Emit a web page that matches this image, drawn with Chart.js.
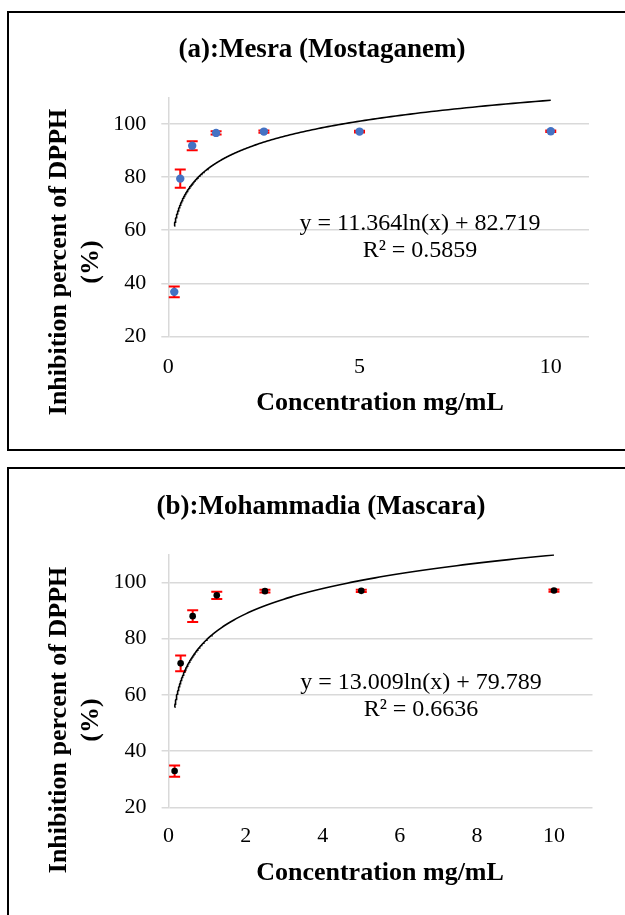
<!DOCTYPE html>
<html>
<head>
<meta charset="utf-8">
<script src="https://cdn.jsdelivr.net/npm/chart.js@4.4.1/dist/chart.umd.min.js"></script>
<style>
  html, body { margin: 0; padding: 0; background: #fff; }
  canvas { display: block; }
</style>
</head>
<body>
<canvas id="chartA" width="625" height="455"></canvas>
<canvas id="chartB" width="625" height="460"></canvas>
<script>
// concentrations (mg/mL) and DPPH inhibition (%)
const concentrations = [0.156, 0.3125, 0.625, 1.25, 2.5, 5, 10];
const inhibitionA = [36.8, 79.4, 91.8, 96.6, 97.1, 97.1, 97.2];
const errorA = [2.0, 3.4, 1.7, 0.6, 0.4, 0.3, 0.3];
const inhibitionB = [32.9, 71.2, 88.0, 95.4, 96.9, 97.0, 97.1];
const errorB = [2.0, 2.8, 2.1, 1.3, 0.5, 0.4, 0.4];
// log trend y = a*ln(x) + b, as printed on the chart
const trendA = [11.364, 82.719];
const trendB = [13.009, 79.789];
const yTicks = [20, 40, 60, 80, 100];
const xTicksA = [0, 5, 10];
const xTicksB = [0, 2, 4, 6, 8, 10];

const FONT = "'Liberation Serif', 'Times New Roman', serif";
Chart.defaults.font.family = FONT;
Chart.defaults.color = '#000';

function trendCurve(coef) {
  const x0 = concentrations[0];
  const x1 = concentrations[concentrations.length - 1];
  const pts = [];
  for (let i = 0; i <= 200; i++) {
    const x = x0 * Math.pow(x1 / x0, i / 200);
    pts.push({ x: x, y: coef[0] * Math.log(x) + coef[1] });
  }
  return pts;
}

const panelPlugin = {
  id: 'panel',
  beforeDatasetsDraw(chart, args, opts) {
    const { ctx } = chart;
    const x = chart.scales.x, y = chart.scales.y;
    const vals = chart.data.datasets[0].data;
    ctx.save();
    ctx.strokeStyle = '#ff0000';
    ctx.lineWidth = 2;
    vals.forEach((p, i) => {
      const px = x.getPixelForValue(p.x);
      const top = y.getPixelForValue(p.y + opts.errors[i]);
      const bot = y.getPixelForValue(p.y - opts.errors[i]);
      ctx.beginPath();
      ctx.moveTo(px, top); ctx.lineTo(px, bot);
      ctx.moveTo(px - 5.5, top); ctx.lineTo(px + 5.5, top);
      ctx.moveTo(px - 5.5, bot); ctx.lineTo(px + 5.5, bot);
      ctx.stroke();
    });
    ctx.restore();
  },
  afterDraw(chart, args, opts) {
    const { ctx, width, height } = chart;
    ctx.save();
    // frame
    ctx.strokeStyle = '#000';
    ctx.lineWidth = 2;
    ctx.beginPath();
    ctx.moveTo(width, opts.boxTop);
    ctx.lineTo(8, opts.boxTop);
    ctx.lineTo(8, opts.boxBottom || height);
    if (opts.boxBottom) ctx.lineTo(width, opts.boxBottom);
    ctx.stroke();

    ctx.fillStyle = '#000';
    ctx.textAlign = 'center';
    ctx.textBaseline = 'middle';
    ctx.font = 'bold 27px ' + FONT;
    ctx.fillText(opts.title, opts.titleX, opts.titleY);

    ctx.font = 'bold 26px ' + FONT;
    ctx.fillText('Concentration mg/mL', opts.xTitleX, opts.xTitleY);
    const yLines = ['Inhibition percent of DPPH', '(%)'];
    [59, 91].forEach((lx, i) => {
      ctx.save();
      ctx.translate(lx, opts.yTitleY);
      ctx.rotate(-Math.PI / 2);
      ctx.fillText(yLines[i], 0, 0);
      ctx.restore();
    });

    ctx.font = '24px ' + FONT;
    ctx.fillText(opts.eq, opts.eqX, opts.eqY);
    ctx.fillText(opts.r2, opts.eqX, opts.eqY + 27);
    ctx.restore();
  }
};

function makePanel(id, cfg) {
  new Chart(document.getElementById(id), {
    type: 'scatter',
    data: {
      datasets: [{
        data: concentrations.map((c, i) => ({ x: c, y: cfg.values[i] })),
        backgroundColor: cfg.pointColor,
        borderWidth: 0,
        pointRadius: cfg.pointRadius
      }, {
        data: trendCurve(cfg.trend),
        showLine: true,
        borderColor: '#000',
        borderWidth: 1.6,
        pointRadius: 0,
        fill: false
      }]
    },
    options: {
      responsive: false,
      animation: false,
      layout: { padding: { top: cfg.padTop, right: cfg.padRight, left: 0, bottom: 0 } },
      plugins: {
        legend: { display: false },
        tooltip: { enabled: false },
        panel: cfg.panel
      },
      scales: {
        x: {
          type: 'linear',
          min: 0,
          max: 11,
          afterBuildTicks: s => { s.ticks = cfg.xTicks.map(v => ({ value: v })); },
          afterFit: s => { s.height = cfg.xHeight; },
          grid: { display: false, drawTicks: false },
          border: { display: false },
          ticks: { font: { size: 22 }, color: '#000', padding: cfg.xPad, maxRotation: 0, autoSkip: false }
        },
        y: {
          min: 20,
          max: 110,
          afterBuildTicks: s => { s.ticks = yTicks.map(v => ({ value: v })); },
          afterFit: s => { s.width = cfg.yWidth; },
          grid: { color: '#d9d9d9', lineWidth: 1.5, tickLength: 7 },
          border: { color: '#d9d9d9', width: 1.5 },
          ticks: { font: { size: 22 }, color: '#000', padding: 15, autoSkip: false }
        }
      }
    },
    plugins: [panelPlugin]
  });
}

makePanel('chartA', {
  values: inhibitionA,
  trend: trendA,
  xTicks: xTicksA,
  xPad: 18,
  pointColor: '#4472c4',
  pointRadius: 4.2,
  padTop: 97.3,
  padRight: 36,
  yWidth: 168.3,
  xHeight: 118.5,
  panel: {
    errors: errorA,
    boxTop: 12, boxBottom: 450,
    title: '(a):Mesra (Mostaganem)', titleX: 322, titleY: 50,
    xTitleX: 380, xTitleY: 403, yTitleY: 262,
    eq: 'y = 11.364ln(x) + 82.719', r2: 'R² = 0.5859', eqX: 420, eqY: 224
  }
});

makePanel('chartB', {
  values: inhibitionB,
  trend: trendB,
  xTicks: xTicksB,
  xPad: 16,
  pointColor: '#000000',
  pointRadius: 3.3,
  padTop: 99.3,
  padRight: 32.5,
  yWidth: 168.6,
  xHeight: 107.7,
  panel: {
    errors: errorB,
    boxTop: 13, boxBottom: null,
    title: '(b):Mohammadia (Mascara)', titleX: 321, titleY: 52,
    xTitleX: 380, xTitleY: 418, yTitleY: 265,
    eq: 'y = 13.009ln(x) + 79.789', r2: 'R² = 0.6636', eqX: 421, eqY: 228
  }
});
</script>
</body>
</html>
